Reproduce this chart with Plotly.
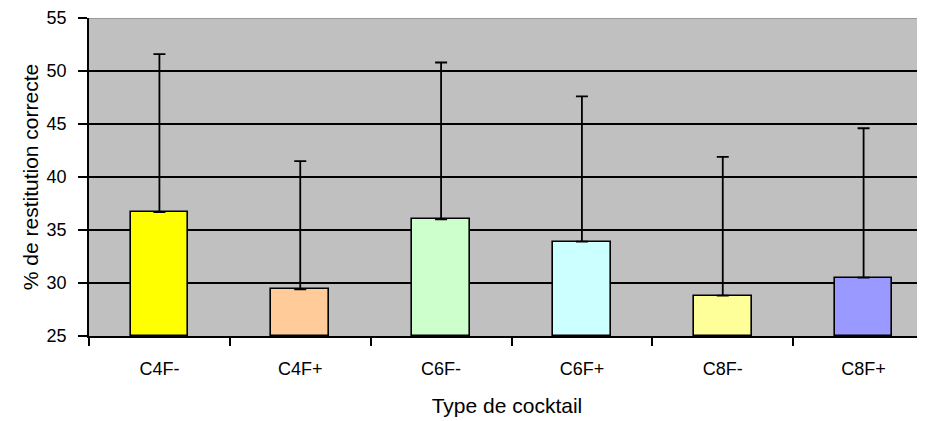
import plotly.graph_objects as go

categories = ["C4F-", "C4F+", "C6F-", "C6F+", "C8F-", "C8F+"]
means = [36.7, 29.4, 36.0, 33.9, 28.8, 30.5]
err_plus = [14.9, 12.1, 14.8, 13.7, 13.1, 14.1]
bar_colors = ["#FFFF00", "#FFCC99", "#CCFFCC", "#CCFFFF", "#FFFF99", "#9999FF"]
y_ticks = [25, 30, 35, 40, 45, 50, 55]

FONT = "Liberation Sans, Arial, sans-serif"

fig = go.Figure()
fig.add_trace(go.Bar(
    x=categories,
    y=[m - 25 for m in means],
    base=25,
    width=0.41,
    marker=dict(color=bar_colors, line=dict(color="black", width=1.6)),
    error_y=dict(type="data", symmetric=False, array=err_plus,
                 arrayminus=[0] * len(err_plus),
                 color="black", thickness=1.8, width=6),
    hoverinfo="skip",
))

fig.add_shape(type="line", xref="paper", yref="y", x0=0, x1=1, y0=55, y1=55,
              line=dict(color="#9a9a9a", width=2), layer="above")

# page body adds an 8px offset, so the figure is sized to end at the window edge
fig.update_layout(
    width=917, height=413,
    margin=dict(l=81, r=0, t=10, b=85),
    paper_bgcolor="white",
    plot_bgcolor="#C0C0C0",
    showlegend=False,
    font=dict(family=FONT, color="black", size=18),
    bargap=0,
)
fig.update_xaxes(
    type="category",
    range=[-0.5, 5.436],
    automargin=False,
    showgrid=False,
    showline=True, linecolor="black", linewidth=1.6,
    ticks="outside", tickson="boundaries", ticklen=8, tickwidth=1.5, tickcolor="black",
    tickfont=dict(size=18, family=FONT, color="black"),
    ticklabelstandoff=16,
    title=dict(text="Type de cocktail", font=dict(size=21, family=FONT, color="black"), standoff=20),
)
fig.update_yaxes(
    range=[25, 55],
    tickvals=y_ticks,
    automargin=False,
    showgrid=True, gridcolor="black", gridwidth=1.6,
    zeroline=False,
    showline=True, linecolor="black", linewidth=1.6,
    ticks="outside", ticklen=9, tickwidth=1.5, tickcolor="black",
    tickfont=dict(size=18, family=FONT, color="black"),
    ticklabelstandoff=8,
    title=dict(text="% de restitution correcte", font=dict(size=21, family=FONT, color="black"), standoff=2),
)

fig.write_html("out.html")
